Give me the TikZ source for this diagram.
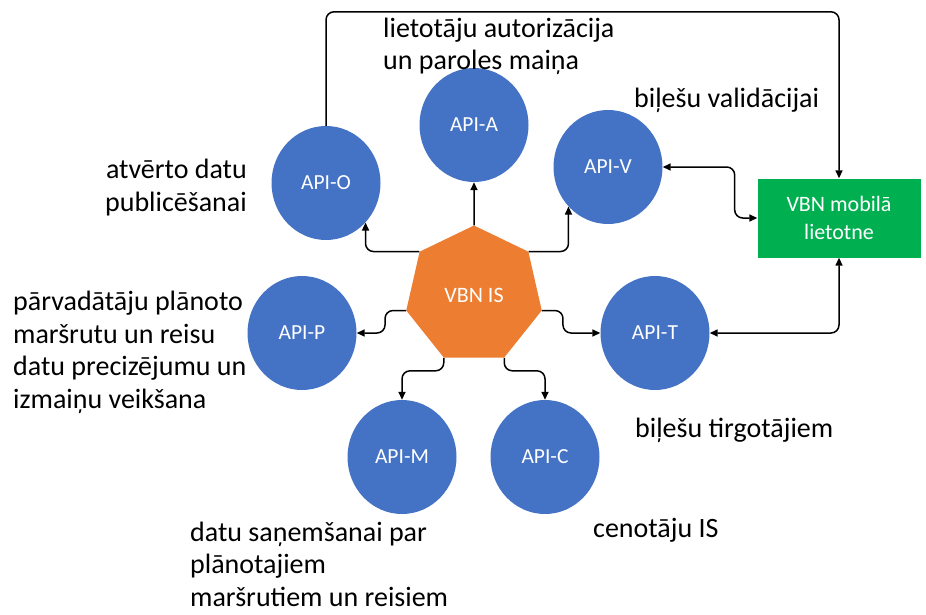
\documentclass[tikz,border=0pt]{standalone}
\usepackage{fontspec}
\setmainfont{Carlito}
\usetikzlibrary{shapes.geometric, arrows.meta, positioning}

\definecolor{apiblue}{HTML}{4472C4}
\definecolor{hubor}{HTML}{ED7D31}
\definecolor{appgreen}{HTML}{00B050}

\begin{document}
\begin{tikzpicture}[x=1pt, y=-1pt,
    api/.style={ellipse, fill=apiblue, minimum width=109pt, minimum height=114pt, inner sep=0pt, text=white, font=\fontsize{21.5}{24}\selectfont},
    hub/.style={regular polygon, regular polygon sides=7, fill=hubor, minimum size=139pt, inner sep=0pt, text=white, font=\fontsize{22}{24}\selectfont},
    app/.style={rectangle, fill=appgreen, minimum width=163pt, minimum height=79pt, text=white, align=center, font=\fontsize{22}{28}\selectfont},
    note/.style={inner sep=0pt, font=\fontsize{28}{32.5}\selectfont},
    link/.style={-{Triangle[length=8pt,width=7pt]}, line width=1.5pt, rounded corners=8pt},
    link2/.style={{Triangle[length=8pt,width=7pt]}-{Triangle[length=8pt,width=7pt]}, line width=1.5pt, rounded corners=8pt}
]
\useasboundingbox (0,0) rectangle (926,615);

\node[hub] (hub) at (474,295) {VBN IS};
\node[api] (apiA) at (474,125) {API-A};
\node[api] (apiO) at (326,183) {API-O};
\node[api] (apiV) at (608,167) {API-V};
\node[api] (apiP) at (302,333) {API-P};
\node[api] (apiT) at (655,333) {API-T};
\node[api] (apiM) at (402,457) {API-M};
\node[api] (apiC) at (545,457) {API-C};
\node[app] (app) at (839,218) {VBN mobilā\\lietotne};

% apraksti (base = pēdējās rindas bāzes līnija)
\node[note, anchor=base west, align=left] (txtA) at (383,70) {lietotāju autorizācija\\un paroles maiņa};
\node[note, anchor=base west] (txtV) at (634,108) {biļešu validācijai};
\node[note, anchor=base east, align=right] (txtO) at (247,211) {atvērto datu\\publicēšanai};
\node[note, anchor=base west, align=left] (txtP) at (13,408) {pārvadātāju plānoto\\maršrutu un reisu\\datu precizējumu un\\izmaiņu veikšana};
\node[note, anchor=base west] (txtT) at (635,437) {biļešu tirgotājiem};
\node[note, anchor=base west, align=left] (txtM) at (190,606) {datu saņemšanai par\\plānotajiem\\maršrutiem un reisiem};
\node[note, anchor=base west] (txtC) at (593,537) {cenotāju IS};

% savienojumi
\draw[link] (hub) -- (apiA);
\draw[link] (hub.corner 2) -| (apiO.-45);
\draw[link] (hub.corner 7) -| (apiV.-135);
\draw[link] (hub.corner 3) -- ++(-21,0) |- (apiP.east);
\draw[link] (hub.corner 6) -- ++(21,0) |- (apiT.west);
\draw[link] (hub.corner 4) -- ++(0,13) -| (apiM.north);
\draw[link] (hub.corner 5) -- ++(0,13) -| (apiC.north);
\draw[link] (apiO.north) -- ++(0,-114) -| (app.north);
\draw[link2] (apiV.east) -- ++(72,0) |- (app.west);
\draw[link2] (apiT.east) -| (app.south);
\end{tikzpicture}
\end{document}
